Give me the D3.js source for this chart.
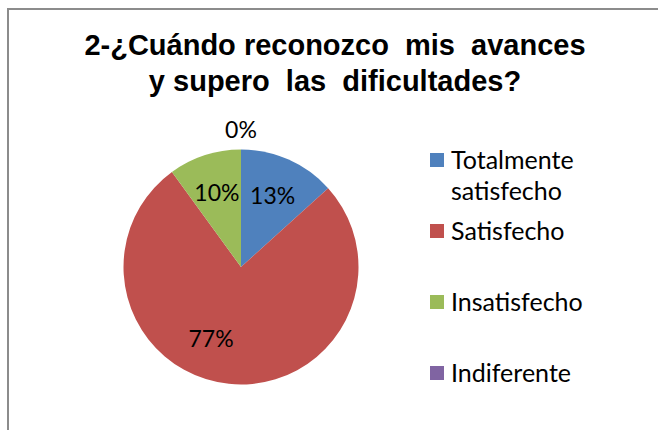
<!DOCTYPE html>
<html>
<head>
<meta charset="utf-8">
<script src="https://cdn.jsdelivr.net/npm/d3@7"></script>
<style>
  body { margin: 0; background: #fff; }
  text { white-space: pre; }
</style>
</head>
<body>
<svg width="658" height="430"></svg>
<script>
// datos
const categories = ["Totalmente satisfecho", "Satisfecho", "Insatisfecho", "Indiferente"];
const values = [13.3, 76.7, 10, 0];
const colors = ["#4F81BD", "#C0504D", "#9BBB59", "#8064A2"];
const titleLines = ["2-¿Cuándo reconozco  mis  avances", "y supero  las  dificultades?"];

const svg = d3.select("svg");
const cx = 241, cy = 267, radius = 117.5;
const labelFont = "Lato, 'Open Sans', sans-serif";

// marco
svg.append("path")
  .attr("d", "M8,430 V9 H658")
  .attr("fill", "none")
  .attr("stroke", "#8c8c8c")
  .attr("stroke-width", 2);

// titulo
svg.append("g").selectAll("text")
  .data(titleLines)
  .join("text")
  .attr("x", 335)
  .attr("y", (d, i) => 55 + i * 36)
  .attr("text-anchor", "middle")
  .attr("font-family", "'Liberation Sans', Arial, sans-serif")
  .attr("font-weight", "bold")
  .attr("font-size", 29)
  .attr("fill", "#000")
  .text(d => d);

// pie
const pie = d3.pie().sort(null).value(d => d);
const arcs = pie(values);
const arc = d3.arc().innerRadius(0).outerRadius(radius);

const g = svg.append("g").attr("transform", `translate(${cx},${cy})`);

g.selectAll("path")
  .data(arcs)
  .join("path")
  .attr("d", arc)
  .attr("fill", (d, i) => colors[i]);

// etiquetas (posicion tipo "best fit" de Excel)
const labelPos = d => {
  const mid = (d.startAngle + d.endAngle) / 2;
  let r = 78, a = mid;
  if (d.value === 0) r = radius + 20;
  if (d.index === 1) a = mid + 0.29;
  return [Math.sin(a) * r, -Math.cos(a) * r];
};

g.selectAll("text")
  .data(arcs)
  .join("text")
  .attr("x", d => labelPos(d)[0])
  .attr("y", d => labelPos(d)[1])
  .attr("dy", "0.36em")
  .attr("text-anchor", "middle")
  .attr("font-family", labelFont)
  .attr("font-size", 23)
  .attr("fill", "#000")
  .text(d => Math.round(d.value) + "%");

// leyenda
const legendY = [160, 231, 302, 373];
const legend = svg.append("g").selectAll("g")
  .data(categories)
  .join("g")
  .attr("transform", (d, i) => `translate(430,${legendY[i]})`);

legend.append("rect")
  .attr("x", 0)
  .attr("y", -7)
  .attr("width", 14)
  .attr("height", 14)
  .attr("fill", (d, i) => colors[i]);

legend.append("text")
  .attr("x", 21)
  .attr("font-family", labelFont)
  .attr("font-size", 25)
  .attr("fill", "#000")
  .selectAll("tspan")
  .data(d => d === "Totalmente satisfecho" ? ["Totalmente", "satisfecho"] : [d])
  .join("tspan")
  .attr("x", 21)
  .attr("y", (d, i) => 9 + i * 31)
  .text(d => d);
</script>
</body>
</html>
